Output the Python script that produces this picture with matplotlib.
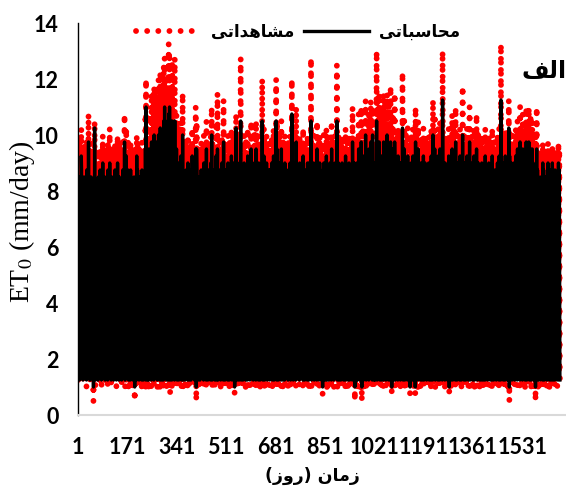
import numpy as np
import matplotlib.pyplot as plt

plt.rcParams['path.simplify'] = False
plt.rcParams['mathtext.fontset'] = 'stix'

# daily ET0 values, one character per day,
# value = position in LEVELS * 0.25 mm/day
LEVELS = "0123456789abcdefghijklmnopqrstuvwxyzABCDEFGHIJKLMNOPQRSTUVWXYZ"

computed_str = (
    "6w9ky5ub7xmBzf8vr5xh7yn6wd8uk5zs7wc6Dm8xi5vq7yg6xl9wt4se7Fn6"
    "5xh7sm6wc5yq8uj6ze7wl5vs6Ag8yo6xd5tr7yk6wf5zi7un6Ac6yt5xh7vm"
    "6yk5wr7zd6vm5xg8Ai6us5ye7xk6wo5vf8zq6xm7Dh5yi6Br8wc6zl5xt7ug"
    "5zj6wl7xc5vp6yc4ts7wh5Bm6zf7xk5yq6xd8wg5zr6vi5ao7ye6C5Iq6yt5"
    "6Am5Ci7zq6Bg5Do6As7Ck5Et6Bi7Du6Cm5Ah6Er7Dj5Fq6Bl5Es6Ch5Gm6Ik"
    "Gn6Ei5Cr7Dk5Hs6Ij5Em6Dq5Gh7Bl6Ao5Gj6Bs7Cg5zt6yk5Ap7ye6Bm5wh6"
    "Em5xi7wq5yf6zl7uc5Ar6xg5yn7vj5zs6Bd8wm6yh5xp6Ck4Czt6yf5vo7xi"
    "5yk6zr7we6xl5Ah6ys7wg5Cn6xc5zq7yj6wf5Am6Er5zh7wk6ye5xs6Bl5ug"
    "Cj5ys6xm7zf5wo6Ah7xk5Dp6yg5zs7wd6yl5Aq6xi5zr7wf6Bm5xk6At7yh4"
    "5ym6Fi7zq5xd6yn5Ak7yGg5wr6zj5xp7Ae6ym5zs6xh5Bl7wg6yr5vk6Cd7x"
    "6ym5wj7Ae6xq5Cg6yl7zd5Ar6xh5wo7yf6Gm5xs6Bi5zq7wd6Al5yh6xt7zg"
    "5zn6xi7Ae5wr6Bk5yg7zm6Gd5Cs7yi5yp6Ag7wl5Cf6xt5zj7ye5Aq6wh7yn"
    "6yk5zq7wf6Am5xh6Hs7yg5zn6Ai7wr5Dj6xd7yp6wl5Ae6zt7yh6xm5Bg7wk"
    "5yo6zi7xe5Al6wg5Ar7yd6Gk5xn7yh6Aq5zf7wm6yj5Cs6xg7zp5Ae6yk7wi"
    "yk4zq6Af7wm5xh6Br5yj7zo5wg6At7ye5Cl6xi7zq5yh6Am7wd6Gs5yk7Af5"
    "ym6xi5zr7Ag6yl5we7ys5Bj6xo7zh5wd6Aq5yk7xm6zg5Dt7yi6Al4zs7yf5"
    "Aj5yr6Cg7zo5xh6Dk4yu6Bf5zn7wi6Eq5yh6As7zk5Cg6xr7Dd6zm5Ej7yg5"
    "6yk5Aq7zGh5Cm6xi7Dg5ys6Ak5Bf7zo5Dh6yr7Cl5Ai6Eq7zg5Cm6yj5Dt7A"
    "4Ak6Ci5ys7Dz5xl6Ag7yp5Bh6xq7Ak5ye6Ar7Fm5yj6Ct5zg7An6xh5Bq7wk"
    "6ym4zh7Ar5xf6Bj5yo7ze4Dk6As7yg5Cn6yh7wq5Ad6xi5zt7Bl5yg6Ar7zj"
    "5zm6xi7Af5yq6wh5Bs7xk5Eg6yn7Ce5xr6Aj7yh5Bl6xm5Ct7yg6Bq5JAk6z"
    "6yk5Aq7wg6zn5xh7Bs4yj6Ar5ye7Cm5xi6Bt7yg5Dk6wp5Ah7zq6ye5Bl7xj"
    "5yk6Eg7xm5Ah6zr5yj7Be6wi5As7Dk5yg6xq7Am5zh6Bk5wt7yf6Cn5yi7Ag"
    "6yk5wq7zf5Ah6xm5ys7wg5Bj6xr7ze5wn6Ah7yk5zd6wt5Bg7xm5yh6zq7wj"
    "5yk6Ag7zm5Bh6xr5Jj7ye6Ai5zs7xm5Bg6yr7Ak5xh6Fq4Bt7yj6Am5yg7zn"
    "6Ak5yh7Bq6zg5Cm6xs7Ah5Dj6yr7Bf5Cn6zi7Aq5Be6Dk5yt7Cm6Dh5zs7Cg"
    "5Ak6Ci7ym5zg6xq4Ah7Ce6zj5ys7wg5xm6yh7wq5Ae6zk5yt7wh6ym5xg7Aj"
    "6yk5zh7xm5yf6Aq5wi7yd5zn6xg7yl5ws6Ah7zk5"
)

observed_str = (
    "5B8lD5yb6CnFDg7At5Ci6Do5Ae8yl4Du6Bc5Hn7Cj5zs6Dh5Bm8Cv2ue6Go5"
    "4Bi6un5zc5Cr7xk5Ce6Am4zt6Eh7Bp5Cd5ws6Cl5Ag4Dj6yo5Fc5Cu4Bi6zn"
    "5Cl5As6Dd5zn4Bh7Ej6xu5De6Bl5Ap4Ag7Dr5Cn6Hi4Cj5Fs7Ac5Dm4Bu6yh"
    "4Dk5Am6Cc4zq5Cb2wt6Ai4En5Df6Bl4Cr5Bd7Ah4Ds5zj49p6Ce5H4Mr5Cu4"
    "5En4Hj6Ds5Gh4Kp5Fu6Il4Lu5Hj6Kw5Jn4Gi5Ms6Kk4Ns5Im4Lu5Ji4On5Pl"
    "Mo5Kj4Hs6Kl4Ru5Pk3Kn5Kr4Oi6Hm5Fp4Pk5Gt6Hh4Eu5Dl4Fq6De5Gn4Bi5"
    "Kn4Bj6Ar4Cg5Dm6yc4Es5Bh4Co6zk4Dt5Fd7An5Ci4Bq5Il2GDu5Cg4zp6Bj"
    "4Cl5Ds6Ae5Cm4Ei5Du6Bh4Go5Cc4Dr6Ck5Ag4En5Is4Di6Bl5Ce4Cu5Gm4yh"
    "Kk4Cu5Bn6Dg4Ap5Ei6Cl4Jq5Ch4Dt6Ad5Cm4Er5Bj4Ds6Ag5Fn4Bl5Eu6Ci3"
    "4Cn5Hj6Dr4Bd5Co4El6CPh4As5Dk4Bq6Ee5Cn4Dt5Bi4Fm6Ah5Cs4zl5Gd6B"
    "5Cn4Ak6Ee5Br4Gh5Cm6Dd4Es5Bi4Ap6Cg5Mn4Bt5Fj4Dr6Ad5Em4Ci5Bu6Dh"
    "4Do5Bj6Ee4As5Fl4Ch6Dn5Md4Gu6Cj4Cq5Eh6Am4Gg5Bu4Dk6Ce4Er5Ai6Co"
    "5Cl4Dr6Ag5En4Bi5Mt6Ch4Do5Ej6As4Ik5Bd6Cq5Am4Ee5Du6Ci5Bn4Fh6Al"
    "4Cp5Dj6Be4Em5Ah4Ds6Cd5Pl4Bo6Ci5Er4Dg6An5Ck4Gu5Bh6Dq4Ee5Cl6Aj"
    "Cl3Dr5Eg6An4Bi5Fs4Ck6Dp4Ah5Eu6Ce4Gm5Bj6Dr4Ci5En6Ad5Ou4Cl6Eg4"
    "Cn5Bj4Ds6Eh5Cm4Ae6Ct4Fk5Bp6Di4Ad5Er4Cl6Bn5Dh4Iu6Cj5Em2Dt6Cg4"
    "Ek4Cs5Hh6Dp4Bi5Il2Cw5Fg4Do6Aj5Jr4Ci5Fu6Dl4Hh5Bs6Jd5Dn4Ik6Ch4"
    "5Cl4Er6DQi4Gn5Bj6Kh4Cu5Hl4Ig6Dp4Ki5Cs6Jm4Fj5Kr6Dh4Jn5Ck4Lu6F"
    "3El5Hj4Ct6KD4Bm5Eh6Cq4Fi5Br6El4Ce5Es6Nn4Ck5Gu4Dh6Eo5Bi4Fr6Al"
    "5Cn3Di6Es4Bg5Fk4Cp6De3Il5Eu6Ch4Go5Ci6Ar4Ed5Bj4Du6Fm4Ch5Es6Dk"
    "4Dn5Bj6Eg4Cr5Ai4Fu6Bl4Jh5Co6He4Bs5Ek6Ci4Fm5Bn4Gu6Ch5Fr4QDl5D"
    "5Cl4Er6Ah5Do4Bi6Ft3Ck5Es4Ce6Hn4Bj5Fu6Ch4Il5Aq4Ei6Dr5Ce4Fm6Bk"
    "4Cl5Lh6Bn4Ei5Ds4Ck6Fe5Aj4Eu6Il4Ch5Br6En4Di5Fl4Au6Cg5Ho4Cj6Eh"
    "5Cl4Ar6Dg4Ei5Bn4Ct6Ah4Fk5Bs6De4Ao5Ei6Cl4Dd5Au4Fh6Bn4Ci5Dr6Ak"
    "4Cl5Eh6Dn4Fi5Bs4Rk6Ce5Ej4Du6Bn4Fh5Cs6El4Bi5Jr2Eu6Ck5En4Ch6Do"
    "5El4Ci6Fr5Dh4Gn5Bt6Ei4Ik5Cs6Fg4Ho5Dj6Er4Fe5Il4Cu6Gn5Ii4Dt6Hh"
    "4El5Gj6Cn4Dh5Br2Ei6Ie5Ck4Bt6Ah4An5Ci6zr4De5Cl4Bu6zi5Bn4Bh6Dk"
    "5Bl4Ci6An4Bg5Cr4zj6Bd4Co5Ah6Bm4zt5Di6Cl4"
)

computed = np.array([LEVELS.index(ch) * 0.25 for ch in computed_str])
observed = np.array([LEVELS.index(ch) * 0.25 for ch in observed_str])
days = np.arange(1, len(computed) + 1)

xticks = [1, 171, 341, 511, 681, 851, 1021, 1191, 1361, 1531]
yticks = [0, 2, 4, 6, 8, 10, 12, 14]

# persian labels written as presentation forms in display order
obs_label = "\ufef0\ufe97\ufe8d\ufeaa\ufeeb\ufe8e\ufeb8\ufee3"    # مشاهداتی
comp_label = "\ufef0\ufe97\ufe8e\ufe92\ufeb3\ufe8e\ufea4\ufee3"   # محاسباتی
panel_label = "\ufed2\ufedf\ufe8d"                                # الف
x_label = "(\ufeaf\ufeed\ufead) \ufee5\ufe8e\ufee3\ufeaf"         # زمان (روز)

fig = plt.figure(figsize=(5.66, 4.91), dpi=100)
ax = fig.add_axes([78 / 566, 76 / 491, 488 / 566, 392 / 491])

ax.plot(days, observed, color='#ff0000', lw=4.2, linestyle=(0, (0.01, 1.9)),
        dash_capstyle='round', label=obs_label)
ax.plot(days, computed, color='black', lw=2.4, label=comp_label)

ax.set_xlim(0.8, 1681)
ax.set_ylim(0, 14)
ax.set_xticks(xticks)
ax.set_yticks(yticks)
ax.tick_params(length=0, labelsize=15.5)
ax.tick_params(axis='y', pad=14)
ax.tick_params(axis='x', pad=16)
for t in ax.get_xticklabels() + ax.get_yticklabels():
    t.set_fontfamily('Lato')
    t.set_fontweight('bold')

for s in ['top', 'right']:
    ax.spines[s].set_visible(False)
ax.spines['left'].set_color('black')
ax.spines['left'].set_linewidth(1)
ax.spines['bottom'].set_color('#d9d9d9')
ax.spines['bottom'].set_linewidth(1.5)

fig.legend(loc='center', bbox_to_anchor=(298 / 566, 1 - 32 / 491), ncol=2,
           frameon=False, handlelength=3.9, handletextpad=0.6, columnspacing=0.6,
           prop={'family': 'DejaVu Sans', 'weight': 'bold', 'size': 12})

fig.text(22 / 566, 1 - 222 / 491, r'ET$_0$ (mm/day)', rotation=90,
         ha='center', va='center', fontsize=20, fontfamily='Liberation Serif')
fig.text(312 / 566, 1 - 476 / 491, x_label, ha='center', va='center',
         fontsize=12.5, fontweight='bold', fontfamily='DejaVu Sans')
fig.text(544 / 566, 1 - 71 / 491, panel_label, ha='center', va='center',
         fontsize=17, fontweight='bold', fontfamily='DejaVu Sans')

fig.savefig('out.png', dpi=100)
